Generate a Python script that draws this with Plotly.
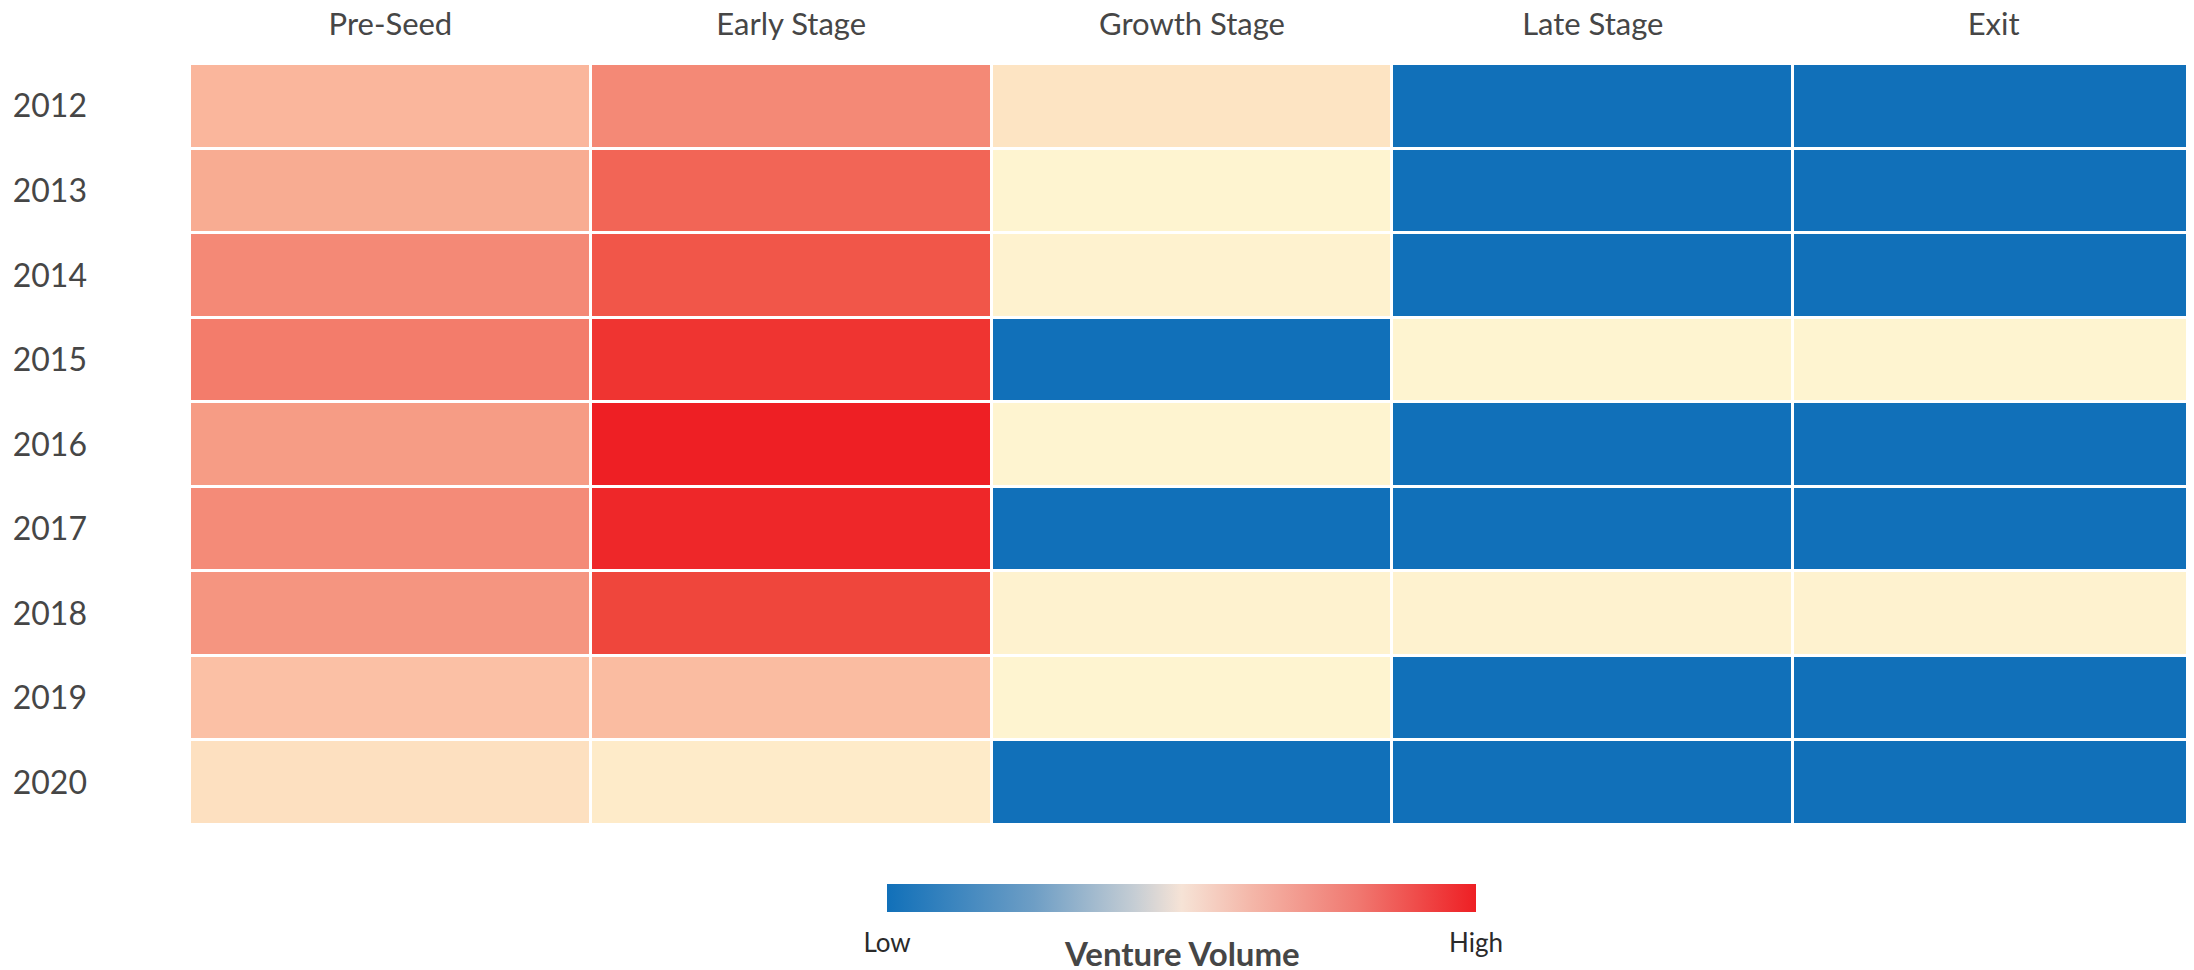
import plotly.graph_objects as go

stages = ["Pre-Seed", "Early Stage", "Growth Stage", "Late Stage", "Exit"]
years = ["2012", "2013", "2014", "2015", "2016", "2017", "2018", "2019", "2020"]

# relative venture volume per year (rows) and stage (columns), 0 = low, 100 = high
pre_seed = [40, 45, 60, 65, 52, 59, 55, 35, 21]
early_stage = [60, 75, 80, 92, 100, 97, 85, 37, 15]
growth_stage = [19, 10, 11, 0, 10, 0, 11, 10, 0]
late_stage = [0, 0, 0, 10, 0, 0, 11, 0, 0]
exit_stage = [0, 0, 0, 10, 0, 0, 11, 0, 0]

legend_ticks = ["Low", "High"]
legend_title = "Venture Volume"

z = [list(row) for row in zip(pre_seed, early_stage, growth_stage, late_stage, exit_stage)]

cell_scale = [
    [0.0, "#1170B9"],
    [0.10, "#FEF4D0"],
    [0.20, "#FDE2C2"],
    [0.35, "#FBC0A5"],
    [0.45, "#F8AC92"],
    [0.55, "#F59580"],
    [0.65, "#F37C6B"],
    [0.75, "#F26556"],
    [0.85, "#EF463C"],
    [1.0, "#EE1F24"],
]

bar_scale = [
    [0.0, "#1170B9"],
    [0.25, "#6E9EC5"],
    [0.42, "#C5CDD4"],
    [0.5, "#F6E3D6"],
    [0.62, "#F4B6A8"],
    [0.8, "#F07870"],
    [1.0, "#EE1F24"],
]

FONT = "Lato"
TXT = "#464646"

# page body adds an 8px offset; figure is sized so the plot fills the window like the reference
OFF = 8
W, H = 2194 - OFF, 970 - OFF
L, R, T, B = 190 - OFF, 0, 64 - OFF, 145
ph = H - T - B


def py(win_pix):
    return (H - B - (win_pix - OFF)) / ph


fig = go.Figure()
fig.add_trace(go.Heatmap(
    z=z, x=stages, y=years,
    colorscale=cell_scale, zmin=0, zmax=100,
    xgap=3, ygap=3, showscale=False, hoverinfo="x+y+z",
))

fig.add_trace(go.Scatter(
    x=[None], y=[None], mode="markers", showlegend=False, hoverinfo="skip",
    marker=dict(
        color=[0], cmin=0, cmax=1, colorscale=bar_scale, showscale=True,
        colorbar=dict(
            orientation="h", x=0.4948, xanchor="center", y=py(884), yanchor="top",
            len=589, lenmode="pixels", thickness=28, outlinewidth=0,
            tickvals=[0, 1], ticktext=legend_ticks, ticks="outside", ticklen=9,
            tickcolor="rgba(0,0,0,0)",
            tickfont=dict(family=FONT, size=26, color="#2a2a2a"),
            ypad=0, xpad=0,
        ),
    ),
))

fig.add_annotation(
    text="<b>" + legend_title + "</b>", x=0.4948, y=py(953), xref="paper", yref="paper",
    showarrow=False, font=dict(family=FONT, size=33, color=TXT), yanchor="middle",
)

fig.update_xaxes(side="top", showgrid=False, zeroline=False, showline=False, ticks="",
                 automargin=False,
                 tickfont=dict(family=FONT, size=31, color=TXT), ticklabelstandoff=22)
fig.update_yaxes(autorange="reversed", showgrid=False, zeroline=False, showline=False, ticks="",
                 automargin=False,
                 tickfont=dict(family=FONT, size=32, color=TXT), ticklabelstandoff=102)

fig.update_layout(
    width=W, height=H,
    margin=dict(l=L, r=R, t=T, b=B, autoexpand=False),
    paper_bgcolor="white", plot_bgcolor="white",
    font=dict(family=FONT, color=TXT),
)

fig.write_html("out.html")
